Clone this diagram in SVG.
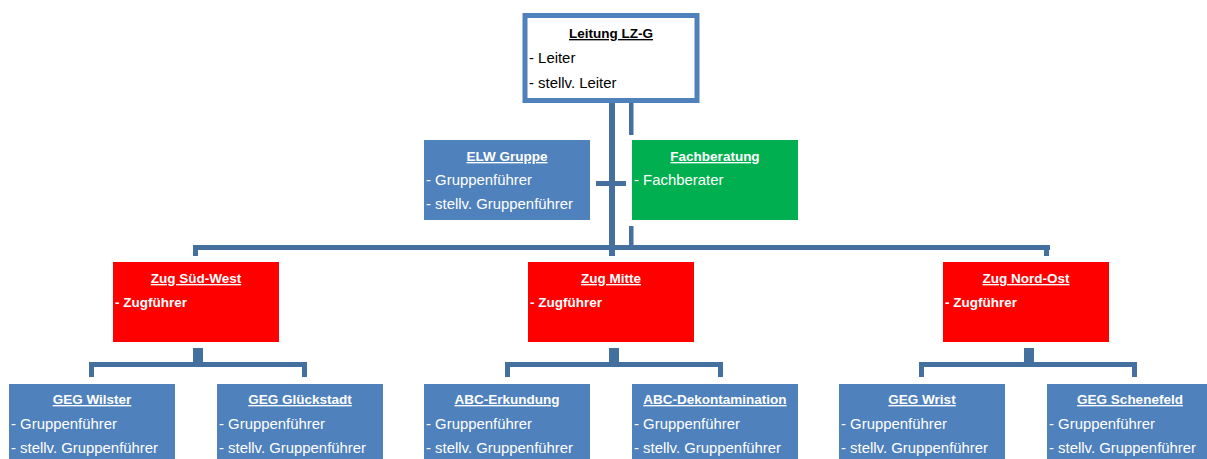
<svg xmlns="http://www.w3.org/2000/svg" width="1207" height="459" viewBox="0 0 1207 459">
<style>
text{font-family:"Liberation Sans",Arial,sans-serif;font-size:14.9px;fill:#fff}
.t{font-weight:bold;font-size:13.5px;text-decoration:underline;text-anchor:middle}
.b{font-weight:bold;font-size:13.5px}
.dk{fill:#000}
.blue{fill:#4F81BD}
.green{fill:#00B050}
.red{fill:#FF0000}
.c{fill:#44709F}
</style>
<rect width="1207" height="459" fill="#fff"/>
<g id="connectors">
<rect class="c" x="609" y="103" width="6" height="153"/>
<rect class="c" x="629" y="103" width="4.5" height="32"/>
<rect class="c" x="629" y="226" width="4.5" height="22"/>
<rect class="c" x="596" y="181" width="30" height="5"/>
<rect class="c" x="193" y="245" width="857" height="5"/>
<rect class="c" x="193" y="245" width="5" height="11"/>
<rect class="c" x="1044" y="245" width="5" height="11"/>
<rect class="c" x="193" y="348" width="10" height="18"/>
<rect class="c" x="89" y="362" width="218" height="5"/>
<rect class="c" x="89" y="362" width="5" height="15"/>
<rect class="c" x="302" y="362" width="5" height="15"/>
<rect class="c" x="609" y="348" width="10" height="18"/>
<rect class="c" x="505" y="362" width="218" height="5"/>
<rect class="c" x="505" y="362" width="5" height="15"/>
<rect class="c" x="718" y="362" width="5" height="15"/>
<rect class="c" x="1024" y="348" width="10" height="18"/>
<rect class="c" x="919" y="362" width="218" height="5"/>
<rect class="c" x="919" y="362" width="5" height="15"/>
<rect class="c" x="1132" y="362" width="5" height="15"/>
</g>
<g id="leitung">
<rect x="525" y="15.5" width="172" height="85" fill="#fff" stroke="#4F81BD" stroke-width="5"/>
<text class="t dk" x="611" y="38">Leitung LZ-G</text>
<text class="dk" x="529" y="63">- Leiter</text>
<text class="dk" x="529" y="88">- stellv. Leiter</text>
</g>
<g id="elw">
<rect class="blue" x="424" y="140" width="166" height="80"/>
<text class="t" x="507" y="161">ELW Gruppe</text>
<text x="426" y="185">- Gruppenführer</text>
<text x="426" y="209">- stellv. Gruppenführer</text>
</g>
<g id="fachberatung">
<rect class="green" x="632" y="140" width="166" height="80"/>
<text class="t" x="715" y="161">Fachberatung</text>
<text x="634" y="185">- Fachberater</text>
</g>
<g id="zug-sued-west">
<rect class="red" x="113" y="262" width="166" height="80"/>
<text class="t" x="196" y="283">Zug Süd-West</text>
<text class="b" x="115" y="307">- Zugführer</text>
</g>
<g id="zug-mitte">
<rect class="red" x="528" y="262" width="166" height="80"/>
<text class="t" x="611" y="283">Zug Mitte</text>
<text class="b" x="530" y="307">- Zugführer</text>
</g>
<g id="zug-nord-ost">
<rect class="red" x="943" y="262" width="166" height="80"/>
<text class="t" x="1026" y="283">Zug Nord-Ost</text>
<text class="b" x="945" y="307">- Zugführer</text>
</g>
<g id="geg-wilster">
<rect class="blue" x="9" y="384" width="166" height="80"/>
<text class="t" x="92" y="404">GEG Wilster</text>
<text x="11" y="429">- Gruppenführer</text>
<text x="11" y="453">- stellv. Gruppenführer</text>
</g>
<g id="geg-glueckstadt">
<rect class="blue" x="217" y="384" width="166" height="80"/>
<text class="t" x="300" y="404">GEG Glückstadt</text>
<text x="219" y="429">- Gruppenführer</text>
<text x="219" y="453">- stellv. Gruppenführer</text>
</g>
<g id="abc-erkundung">
<rect class="blue" x="424" y="384" width="166" height="80"/>
<text class="t" x="507" y="404">ABC-Erkundung</text>
<text x="426" y="429">- Gruppenführer</text>
<text x="426" y="453">- stellv. Gruppenführer</text>
</g>
<g id="abc-dekontamination">
<rect class="blue" x="632" y="384" width="166" height="80"/>
<text class="t" x="715" y="404">ABC-Dekontamination</text>
<text x="634" y="429">- Gruppenführer</text>
<text x="634" y="453">- stellv. Gruppenführer</text>
</g>
<g id="geg-wrist">
<rect class="blue" x="839" y="384" width="166" height="80"/>
<text class="t" x="922" y="404">GEG Wrist</text>
<text x="841" y="429">- Gruppenführer</text>
<text x="841" y="453">- stellv. Gruppenführer</text>
</g>
<g id="geg-schenefeld">
<rect class="blue" x="1047" y="384" width="166" height="80"/>
<text class="t" x="1130" y="404">GEG Schenefeld</text>
<text x="1049" y="429">- Gruppenführer</text>
<text x="1049" y="453">- stellv. Gruppenführer</text>
</g>
</svg>
